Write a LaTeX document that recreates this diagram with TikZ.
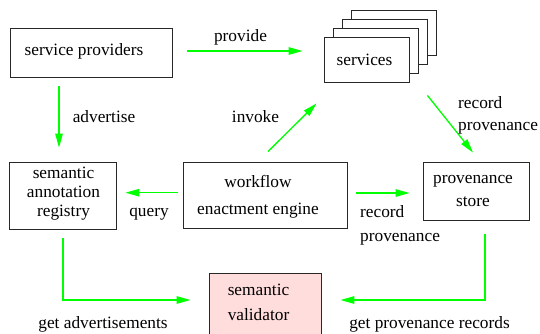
\documentclass[tikz,border=0pt]{standalone}
\usepackage{fontspec}
\setmainfont{Liberation Serif}
\newfontfamily\myserif{Liberation Serif}
\usetikzlibrary{arrows.meta,calc}
\definecolor{arr}{RGB}{0,255,0}
\definecolor{valfill}{RGB}{255,221,221}
\definecolor{edge}{RGB}{40,40,40}
\begin{document}
\begin{tikzpicture}[x=1pt,y=-1pt,
  box/.style={draw=edge, line width=0.9pt, fill=white, inner sep=0},
  txt/.style={font=\myserif\fontsize{17.3}{#1}\selectfont, align=center, inner sep=0},
  lbl/.style={font=\myserif\fontsize{17.3}{20}\selectfont, inner sep=0},
  con/.style={draw=arr, line width=1.3pt, -{Triangle[length=14pt,width=7.5pt]}}]
\path[use as bounding box] (0,0) rectangle (540,333);
\clip (0,0) rectangle (540,333);
\fill[white] (0,0) rectangle (540,333);

% boxes
\node[box, minimum width=162pt, minimum height=49pt] (sp) at (91,52.5) {};
\node[box, minimum width=85pt, minimum height=45pt] (s3) at (393.5,32.5) {};
\node[box, minimum width=85pt, minimum height=45pt] (s2) at (384.5,41.5) {};
\node[box, minimum width=85pt, minimum height=45pt] (s1) at (375.5,50.5) {};
\node[box, minimum width=85pt, minimum height=45pt] (fr) at (366.5,59.5) {};
\node[box, minimum width=107pt, minimum height=67pt] (reg) at (62.5,195.5) {};
\node[box, minimum width=164pt, minimum height=66pt] (wf) at (265,195) {};
\node[box, minimum width=106pt, minimum height=58pt] (ps) at (476,191) {};
\node[box, fill=valfill, minimum width=112pt, minimum height=72pt] (val) at (265,309) {};

% box texts
\node[txt=20] (tsp) at (84,51) {service providers};
\node[txt=20] (tfr) at (364.5,60) {services};
\node[txt=19] (treg) at (63.5,194) {semantic\\annotation\\registry};
\node[txt=27] (twf) at (258,196.5) {workflow\\enactment engine};
\node[txt=23] (tps) at (473,191.5) {provenance\\store};
\node[txt=25] (tval) at (258.5,302.5) {semantic\\validator};

% connectors
\draw[con] ([shift={(15,-1.5)}]sp.east) -- ([shift={(-21,-8.5)}]fr.west);
\draw[con] ([shift={(-32,9)}]sp.south) -- ([shift={(-3.5,-14)}]reg.north);
\draw[con] ([shift={(3,-10)}]wf.north) -- ([shift={(-7,21)}]fr.south west);
\draw[con] ([shift={(18,13)}]fr.south east) -- ([shift={(-3,-9)}]ps.north);
\draw[con] ([shift={(-5,-2.3)}]wf.west) -- ([shift={(9,-2.8)}]reg.east);
\draw[con] ([shift={(9,-2)}]wf.east) -- ([shift={(-13,2)}]ps.west);
\draw[con] ([shift={(0.5,9)}]reg.south) |- ([shift={(-18,-9)}]val.west);
\draw[con] ([shift={(9,14)}]ps.south) |- ([shift={(19,-9)}]val.east);

% labels
\node[lbl] (lprov) at (240.5,37) {provide};
\node[lbl] (ladv) at (104,117) {advertise};
\node[lbl] (linv) at (255.5,117) {invoke};
\node[txt=22, align=left, anchor=west] (lrp1) at (458,115) {record\\provenance};
\node[lbl] (lq) at (149,214) {query};
\node[txt=24, align=left, anchor=west] (lrp2) at (360,225) {record\\provenance};
\node[lbl] (lga) at (103,324) {get advertisements};
\node[lbl] (lgp) at (429.5,324) {get provenance records};
\end{tikzpicture}
\end{document}
